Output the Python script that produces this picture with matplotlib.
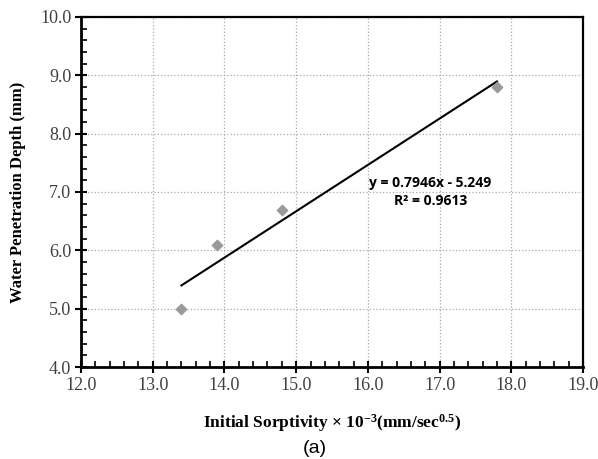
import numpy as np
import matplotlib
matplotlib.use("Agg")
import matplotlib.pyplot as plt
from matplotlib.ticker import MultipleLocator

plt.rcParams["mathtext.fontset"] = "custom"
plt.rcParams["mathtext.rm"] = "Liberation Serif:bold"
plt.rcParams["mathtext.it"] = "Liberation Serif:bold"
plt.rcParams["mathtext.bf"] = "Liberation Serif:bold"

# Data
sorptivity = [13.4, 13.9, 14.8, 17.8]
penetration = [5.0, 6.1, 6.7, 8.8]

x = np.array(sorptivity)
y = np.array(penetration)
slope, intercept = np.polyfit(x, y, 1)
r2 = np.corrcoef(x, y)[0, 1] ** 2

fig = plt.figure(figsize=(5.98, 4.59), dpi=100)
ax = fig.add_axes([0.1355, 0.2004, 0.8395, 0.7626])

ax.scatter(x, y, marker="D", s=28, color="#9a9a9a", zorder=3)
xl = np.array([x.min(), x.max()])
ax.plot(xl, slope * xl + intercept, color="black", lw=1.5, zorder=2)

ax.set_xlim(12, 19)
ax.set_ylim(4, 10)
ax.xaxis.set_major_locator(MultipleLocator(1))
ax.yaxis.set_major_locator(MultipleLocator(1))
ax.xaxis.set_minor_locator(MultipleLocator(0.2))
ax.yaxis.set_minor_locator(MultipleLocator(0.2))
ax.xaxis.set_major_formatter(lambda v, p: f"{v:.1f}")
ax.yaxis.set_major_formatter(lambda v, p: f"{v:.1f}")

ax.grid(True, which="major", color="#aaaaaa", ls=":", lw=0.9)
ax.tick_params(which="major", direction="inout", length=8, width=1.5,
               labelsize=13, labelcolor="#404040", pad=3)
ax.tick_params(which="minor", direction="in", length=4, width=1.2)
ax.tick_params(top=False, right=False, which="both")
for lab in ax.get_xticklabels() + ax.get_yticklabels():
    lab.set_family("Liberation Serif")

ax.spines["left"].set_linewidth(2)
ax.spines["bottom"].set_linewidth(2)
ax.spines["top"].set_linewidth(1.6)
ax.spines["right"].set_linewidth(1.6)

ax.set_xlabel("Initial Sorptivity × 10$^{-3}$(mm/sec$^{0.5}$)", family="Liberation Serif",
              fontweight="bold", fontsize=12.5, labelpad=13)
ax.set_ylabel("Water Penetration Depth (mm)", family="Liberation Serif",
              fontweight="bold", fontsize=12, labelpad=10)

ax.text(16.87, 7.0, f"y = {slope:.4f}x - {abs(intercept):.3f}\nR² = {r2:.4f}",
        ha="center", va="center", fontsize=10, fontweight="bold",
        family="Open Sans", linespacing=1.35, zorder=4)

fig.text(0.527, 0.004, "(a)", ha="center", va="bottom", fontsize=14, family="Liberation Sans")

fig.savefig("out.png", dpi=100)
